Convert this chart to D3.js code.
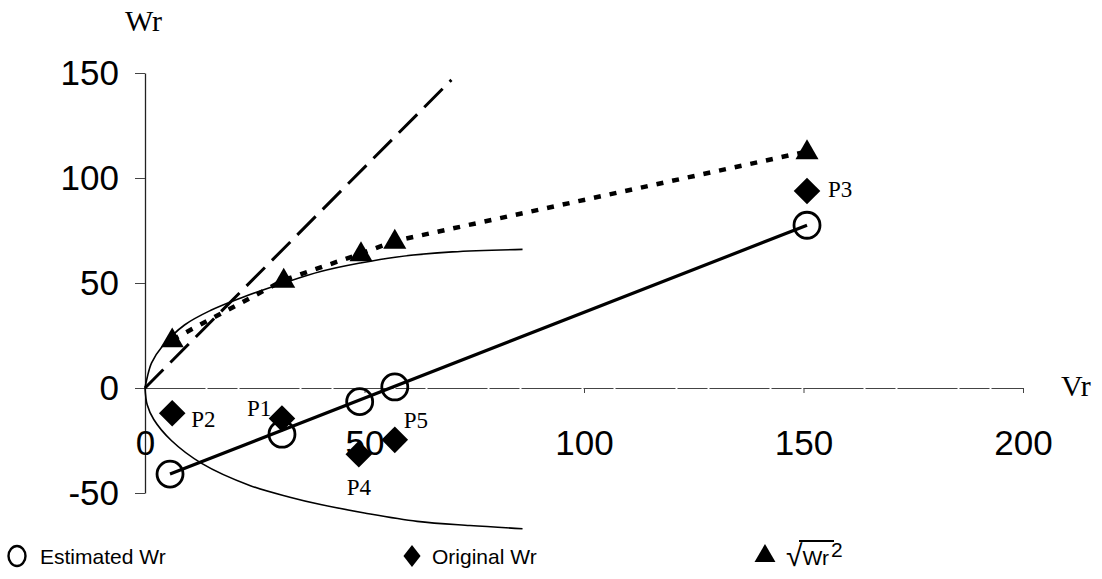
<!DOCTYPE html>
<html>
<head>
<meta charset="utf-8">
<script src="https://cdn.jsdelivr.net/npm/d3@7"></script>
<style>
  body { margin: 0; background: #fff; }
  .tick text { font-family: "Liberation Sans", Arial, sans-serif; font-size: 35px; fill: #000; }
  .serif { font-family: "Liberation Serif", "Times New Roman", serif; fill: #000; }
  .leg { font-family: "Liberation Sans Narrow", "Liberation Sans", Arial, sans-serif; font-size: 21px; fill: #000; }
</style>
</head>
<body>
<div id="chart"></div>
<script>
const width = 1102;
const height = 579;

// tick values
const xTicks = [0, 50, 100, 150, 200];
const yTicks = [-50, 0, 50, 100, 150];

// estimated Wr (open circles, regression line)
const estVr = [5.7, 31.2, 48.9, 56.9, 150.8];
const estWr = [-41, -22, -6.5, 0.5, 77.5];

// original Wr (diamonds)
const origVr = [31.2, 6.2, 150.8, 48.7, 56.9];
const origWr = [-14.5, -12, 93.8, -31.5, -24.7];
const origLabels = ["P1", "P2", "P3", "P4", "P5"];

// sqrt(Wr^2) (triangles, dotted line)
const sqVr = [6.2, 31.6, 49.2, 56.9, 150.8];
const sqWr = [23, 51.4, 64, 70, 112.6];

// thin envelope curves
const upperVr = [0, 0.5, 1.5, 4, 9, 15, 22, 31.6, 40, 49, 57, 70, 86];
const upperWr = [0, 5, 12, 20, 30, 37, 43, 50, 55.5, 59.5, 62.3, 64.8, 66];
const lowerVr = [0, 0.5, 2, 6, 13, 24, 33, 40, 50, 62, 74, 86];
const lowerWr = [0, -8, -15, -25, -36, -46.5, -52, -55.5, -59.5, -63.5, -65.5, -67];

// dashed reference line
const dashVr = [0, 69.8];
const dashWr = [0, 146.7];

const svg = d3.select("#chart")
  .append("svg")
  .attr("width", width)
  .attr("height", height);

const x = d3.scaleLinear().domain([0, 200]).range([145, 1023]);
const y = d3.scaleLinear().domain([-50, 150]).range([493, 73]);

// axes
const yAxis = svg.append("g")
  .attr("transform", `translate(${x(0)},0)`)
  .call(d3.axisLeft(y).tickValues(yTicks).tickFormat(d => String(d))
    .tickSize(10).tickSizeOuter(0).tickPadding(16));
yAxis.select(".domain").attr("stroke", "#222").attr("stroke-width", 1.3);
yAxis.selectAll(".tick line").attr("stroke", "#444");

const xAxis = svg.append("g")
  .attr("transform", `translate(0,${y(0)})`)
  .call(d3.axisBottom(x).tickValues(xTicks).tickFormat(d => String(d))
    .tickSize(5).tickSizeOuter(0).tickPadding(37));
xAxis.select(".domain").attr("stroke", "#444").attr("stroke-width", 1.2).attr("stroke-dasharray", "60,2,30,2");
xAxis.selectAll(".tick line").attr("stroke", "#444");
xAxis.selectAll(".tick").filter(d => d === 0).select("line").remove();

svg.append("text").attr("class", "serif")
  .attr("x", 125).attr("y", 31)
  .style("font-size", "30px")
  .text("Wr");

svg.append("text").attr("class", "serif")
  .attr("x", 1061).attr("y", 396)
  .style("font-size", "30px")
  .text("Vr");

// thin curves
const curveLine = d3.line()
  .x(d => x(d[0]))
  .y(d => y(d[1]))
  .curve(d3.curveCatmullRom.alpha(0.5));

svg.append("path")
  .datum(d3.zip(upperVr, upperWr))
  .attr("d", curveLine)
  .attr("fill", "none")
  .attr("stroke", "#000")
  .attr("stroke-width", 1.6);

svg.append("path")
  .datum(d3.zip(lowerVr, lowerWr))
  .attr("d", curveLine)
  .attr("fill", "none")
  .attr("stroke", "#000")
  .attr("stroke-width", 1.6);

const straight = d3.line().x(d => x(d[0])).y(d => y(d[1]));

// dashed line
svg.append("path")
  .datum(d3.zip(dashVr, dashWr))
  .attr("d", straight)
  .attr("fill", "none")
  .attr("stroke", "#000")
  .attr("stroke-width", 3)
  .attr("stroke-dasharray", "26,10");

// regression line through estimated points
svg.append("path")
  .datum([[estVr[0], estWr[0]], [estVr[4], estWr[4]]])
  .attr("d", straight)
  .attr("fill", "none")
  .attr("stroke", "#000")
  .attr("stroke-width", 3.2);

// dotted line through triangles
svg.append("path")
  .datum(d3.zip(sqVr, sqWr))
  .attr("d", straight)
  .attr("fill", "none")
  .attr("stroke", "#000")
  .attr("stroke-width", 4.5)
  .attr("stroke-dasharray", "7,9");

// circles
svg.append("g")
  .selectAll("circle")
  .data(d3.zip(estVr, estWr))
  .enter()
  .append("circle")
  .attr("cx", d => x(d[0]))
  .attr("cy", d => y(d[1]))
  .attr("r", 13)
  .attr("fill", "none")
  .attr("stroke", "#000")
  .attr("stroke-width", 2.8);

// diamonds
const diamond = d3.symbol().type(d3.symbolDiamond2).size(450);
svg.append("g")
  .selectAll("path")
  .data(d3.zip(origVr, origWr))
  .enter()
  .append("path")
  .attr("d", diamond)
  .attr("transform", d => `translate(${x(d[0])},${y(d[1])})`)
  .attr("fill", "#000");

// triangles
const tri = d3.symbol().type(d3.symbolTriangle).size(230);
svg.append("g")
  .selectAll("path")
  .data(d3.zip(sqVr, sqWr))
  .enter()
  .append("path")
  .attr("d", tri)
  .attr("transform", d => `translate(${x(d[0])},${y(d[1]) + 1})`)
  .attr("fill", "#000");

// point labels
const labelOffsets = [[-35, -2], [19, 14], [21, 6], [-12, 41], [9, -12]];
svg.append("g")
  .selectAll("text")
  .data(origLabels)
  .enter()
  .append("text")
  .attr("class", "serif")
  .style("font-size", "23px")
  .attr("x", (d, i) => x(origVr[i]) + labelOffsets[i][0])
  .attr("y", (d, i) => y(origWr[i]) + labelOffsets[i][1])
  .text(d => d);

// legend
const legY = 556;
svg.append("ellipse")
  .attr("cx", 17).attr("cy", legY).attr("rx", 8.5).attr("ry", 10)
  .attr("fill", "none").attr("stroke", "#000").attr("stroke-width", 2.4);
svg.append("text").attr("class", "leg")
  .attr("x", 40).attr("y", legY + 8).text("Estimated Wr");

svg.append("path")
  .attr("d", d3.symbol().type(d3.symbolDiamond2).size(260))
  .attr("transform", `translate(412,${legY}) scale(0.85,1.1)`)
  .attr("fill", "#000");
svg.append("text").attr("class", "leg")
  .attr("x", 432).attr("y", legY + 8).text("Original Wr");

svg.append("path")
  .attr("d", d3.symbol().type(d3.symbolTriangle).size(190))
  .attr("transform", `translate(765,${legY})`)
  .attr("fill", "#000");
const sq = svg.append("text").attr("class", "leg")
  .attr("x", 786).attr("y", legY + 10);
sq.append("tspan").style("font-size", "30px").text("√");
sq.append("tspan").attr("dy", -1).text("Wr");
sq.append("tspan").attr("dx", 2).attr("dy", -8).text("2");
svg.append("line")
  .attr("x1", 799).attr("x2", 834)
  .attr("y1", legY - 15).attr("y2", legY - 15)
  .attr("stroke", "#000").attr("stroke-width", 1.8);
</script>
</body>
</html>
